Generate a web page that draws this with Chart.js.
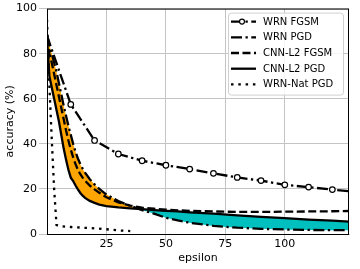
<!DOCTYPE html>
<html lang="en">
<head>
    <meta charset="UTF-8">
    <title>Accuracy vs epsilon</title>
    <script src="https://cdn.jsdelivr.net/npm/chart.js@4.4.0/dist/chart.umd.min.js"></script>
    <style>
        body {
            margin: 0;
            background-color: white;
        }
        canvas {
            display: block;
        }
    </style>
</head>
<body>
    <canvas id="accChart" width="360" height="269"></canvas>

    <script>
        // shared epsilon grid for the CNN-L2 and WRN PGD curves
        const eps = [0, 1, 2, 3, 4, 5, 6, 7, 8, 9, 10, 11, 12, 13, 14, 15, 16, 18, 20, 22,
                     25, 30, 35, 40, 45, 50, 55, 60, 70, 80, 90, 100, 110, 120, 127];

        const wrnPgd = [88, 84, 80, 76, 72, 67, 62, 57, 52.5, 48, 44, 40, 36.5, 33.5, 31, 29, 27.2, 24.3, 22, 20,
                        17.5, 14.6, 12.5, 10.6, 9, 7.2, 6, 5, 3.6, 2.8, 2.3, 2, 1.8, 1.7, 1.7];
        const cnnFgsm = [87, 80, 76, 71, 66, 61, 56, 51, 46, 41.5, 37.5, 34, 31, 28.5, 26.5, 25, 23.7, 21.5, 19.8, 18.3,
                         16.3, 14, 12.6, 11.7, 11.2, 10.8, 10.5, 10.3, 10, 9.8, 9.8, 9.9, 10, 10.1, 10.2];
        const cnnPgd = [87, 70, 65, 60, 55, 50, 44, 38, 33, 28.5, 25, 23.5, 21.5, 19.8, 18.2, 17, 16, 14.7, 13.8, 13,
                        12.4, 11.8, 11.4, 11, 10.6, 10.3, 10, 9.6, 9, 8.3, 7.6, 7, 6.4, 5.9, 5.5];

        // WRN FGSM is sampled every 10
        const fgsmEps = [0, 10, 20, 30, 40, 50, 60, 70, 80, 90, 100, 110, 120, 127];
        const wrnFgsm = [88, 57.5, 41.5, 35.5, 32.5, 30.5, 28.8, 26.9, 25.1, 23.7, 21.8, 20.8, 19.7, 19];

        const natEps = [0, 1, 2, 3, 4, 5, 10, 15, 20, 25, 30, 35];
        const wrnNatPgd = [95, 66, 42, 20, 4, 3.5, 3.1, 2.8, 2.5, 2.1, 1.6, 1.3];

        const xTicks = [25, 50, 75, 100];
        const seriesNames = ['WRN FGSM', 'WRN PGD', 'CNN-L2 FGSM', 'CNN-L2 PGD', 'WRN-Nat PGD'];

        const toPoints = (xs, ys) => xs.map((x, i) => ({ x: x, y: ys[i] }));

        const LW = 2.3;
        const DASHDOT = [11, 3.5, 2.3, 3.5];
        const DASHED = [8, 3.5];
        const DOTTED = [2.5, 4.8];

        const styles = [
            { dash: DASHDOT, marker: true },
            { dash: DASHDOT, marker: false },
            { dash: DASHED, marker: false },
            { dash: [], marker: false },
            { dash: DOTTED, marker: false }
        ];

        const base = {
            borderColor: '#000',
            borderWidth: LW,
            tension: 0,
            pointRadius: 0,
            fill: false
        };

        const data = {
            datasets: [
                Object.assign({}, base, {
                    label: seriesNames[0],
                    data: toPoints(fgsmEps, wrnFgsm),
                    borderDash: DASHDOT,
                    pointRadius: fgsmEps.map((x, i) => (i === 0 || i === fgsmEps.length - 1) ? 0 : 2.8),
                    pointBackgroundColor: '#fff',
                    pointBorderColor: '#000',
                    pointBorderWidth: 1.2
                }),
                Object.assign({}, base, {
                    label: seriesNames[1],
                    data: toPoints(eps, wrnPgd),
                    borderDash: DASHDOT,
                    // orange where WRN PGD is above CNN-L2 PGD, cyan where below
                    fill: { target: 3, above: '#ffa500', below: '#00bfbf' }
                }),
                Object.assign({}, base, {
                    label: seriesNames[2],
                    data: toPoints(eps, cnnFgsm),
                    borderDash: DASHED
                }),
                Object.assign({}, base, {
                    label: seriesNames[3],
                    data: toPoints(eps, cnnPgd)
                }),
                Object.assign({}, base, {
                    label: seriesNames[4],
                    data: toPoints(natEps, wrnNatPgd),
                    borderDash: DOTTED
                })
            ]
        };

        // frame on all four sides + matplotlib-like legend
        const framePlugin = {
            id: 'frame',
            afterDraw(chart) {
                const ctx = chart.ctx;
                const a = chart.chartArea;
                ctx.save();
                ctx.strokeStyle = '#000';
                ctx.lineWidth = 1;
                ctx.strokeRect(a.left + 0.5, a.top + 0.5, a.right - a.left - 1, a.bottom - a.top);

                // legend
                const bx = a.right - 121, by = a.top + 4, bw = 115, bh = 82;
                ctx.beginPath();
                ctx.roundRect(bx + 0.5, by + 0.5, bw, bh, 3);
                ctx.fillStyle = 'rgba(255,255,255,0.85)';
                ctx.fill();
                ctx.strokeStyle = '#d0d0d0';
                ctx.stroke();

                ctx.font = '10px "DejaVu Sans"';
                ctx.textBaseline = 'middle';
                ctx.textAlign = 'left';
                seriesNames.forEach(function(name, i) {
                    const y = by + 9 + i * 15.7;
                    ctx.strokeStyle = '#000';
                    ctx.lineWidth = LW;
                    ctx.setLineDash(styles[i].dash);
                    ctx.beginPath();
                    ctx.moveTo(bx + 3, y);
                    ctx.lineTo(bx + 28, y);
                    ctx.stroke();
                    ctx.setLineDash([]);
                    if (styles[i].marker) {
                        ctx.beginPath();
                        ctx.arc(bx + 14, y, 2.5, 0, Math.PI * 2);
                        ctx.fillStyle = '#fff';
                        ctx.fill();
                        ctx.lineWidth = 1.2;
                        ctx.stroke();
                    }
                    ctx.fillStyle = '#000';
                    ctx.fillText(name, bx + 35, y + 0.5);
                });
                ctx.restore();
            }
        };

        const font = { family: '"DejaVu Sans"', size: 11 };

        const config = {
            type: 'line',
            data: data,
            options: {
                responsive: false,
                animation: false,
                layout: { padding: { top: 6, right: 11, left: 0, bottom: 0 } },
                plugins: {
                    legend: { display: false },
                    tooltip: { enabled: false },
                    filler: { drawTime: 'beforeDatasetsDraw' }
                },
                scales: {
                    x: {
                        type: 'linear',
                        min: 0,
                        max: 127,
                        afterBuildTicks: function(scale) {
                            scale.ticks = xTicks.map(v => ({ value: v }));
                        },
                        afterFit: function(scale) { scale.height = 35; },
                        ticks: { color: '#000', font: font, padding: -4, maxRotation: 0 },
                        title: { display: true, text: 'epsilon', color: '#000', font: font, padding: { top: 0 } }
                    },
                    y: {
                        min: 0,
                        max: 100,
                        afterFit: function(scale) { scale.width = 47; },
                        ticks: { color: '#000', font: font, stepSize: 20, padding: 2 },
                        title: { display: true, text: 'accuracy (%)', color: '#000', font: font }
                    }
                }
            },
            plugins: [framePlugin]
        };

        window.onload = function() {
            // grid and tick colour through the library default instead of per-axis options
            Chart.defaults.borderColor = '#c4c4c4';
            const ctx = document.getElementById('accChart').getContext('2d');
            new Chart(ctx, config);
        };
    </script>
</body>
</html>
